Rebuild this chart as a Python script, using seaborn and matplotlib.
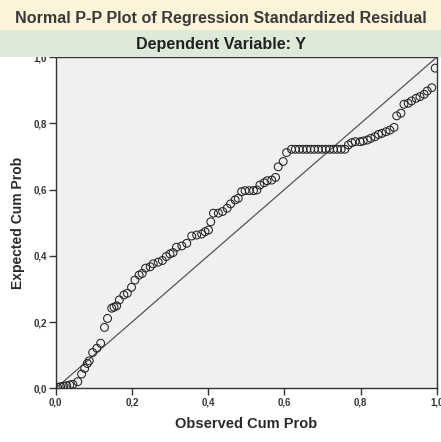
""" Normal P-P plot of regression standardized residual. """

import numpy as np
import pandas as pd
import matplotlib
matplotlib.use("Agg")
import matplotlib.pyplot as plt
from matplotlib.patches import Rectangle
import seaborn as sns

# observed cum prob (x) and expected cum prob (y)
observed = [0.005, 0.013, 0.021, 0.029, 0.037, 0.045, 0.058, 0.068, 0.076, 0.083,
            0.088, 0.097, 0.108, 0.118, 0.128, 0.136, 0.147, 0.153, 0.160, 0.167,
            0.179, 0.188, 0.199, 0.208, 0.219, 0.227, 0.236, 0.248, 0.256, 0.269,
            0.280, 0.290, 0.300, 0.308, 0.317, 0.331, 0.344, 0.357, 0.370, 0.383,
            0.392, 0.401, 0.407, 0.414, 0.427, 0.438, 0.450, 0.459, 0.471, 0.479,
            0.488, 0.497, 0.508, 0.519, 0.528, 0.536, 0.547, 0.555, 0.567, 0.577,
            0.584, 0.597, 0.606, 0.619, 0.629, 0.639, 0.649, 0.659, 0.669, 0.679,
            0.689, 0.699, 0.709, 0.719, 0.729, 0.739, 0.749, 0.759, 0.768, 0.777,
            0.786, 0.799, 0.807, 0.818, 0.827, 0.838, 0.847, 0.856, 0.867, 0.877,
            0.888, 0.895, 0.906, 0.914, 0.925, 0.934, 0.946, 0.956, 0.967, 0.975,
            0.987, 0.996]
expected = [0.003, 0.005, 0.006, 0.008, 0.010, 0.012, 0.020, 0.043, 0.060, 0.075,
            0.083, 0.108, 0.121, 0.136, 0.184, 0.211, 0.242, 0.245, 0.249, 0.267,
            0.282, 0.287, 0.305, 0.327, 0.342, 0.347, 0.363, 0.367, 0.376, 0.381,
            0.386, 0.398, 0.406, 0.410, 0.426, 0.430, 0.438, 0.460, 0.463, 0.466,
            0.473, 0.478, 0.503, 0.529, 0.529, 0.534, 0.544, 0.557, 0.569, 0.574,
            0.594, 0.597, 0.597, 0.597, 0.599, 0.614, 0.621, 0.627, 0.629, 0.637,
            0.669, 0.685, 0.712, 0.722, 0.722, 0.722, 0.722, 0.722, 0.722, 0.722,
            0.722, 0.722, 0.722, 0.722, 0.722, 0.722, 0.722, 0.722, 0.735, 0.742,
            0.745, 0.745, 0.747, 0.750, 0.755, 0.760, 0.767, 0.770, 0.775, 0.780,
            0.788, 0.823, 0.831, 0.858, 0.861, 0.868, 0.876, 0.881, 0.888, 0.898,
            0.908, 0.967]

ref_line = [0.0, 1.0]
ticks = [0.0, 0.2, 0.4, 0.6, 0.8, 1.0]
tick_labels = ["0,0", "0,2", "0,4", "0,6", "0,8", "1,0"]

df = pd.DataFrame({"observed": observed, "expected": expected})

sns.set_style("white")
plt.rcParams["font.family"] = ["Liberation Sans", "DejaVu Sans"]

fig = plt.figure(figsize=(4.41, 4.42), dpi=100)
fig.patch.set_facecolor("white")

# page bands behind the titles
fig.patches.append(Rectangle((0, 1 - 30 / 442), 1, 30 / 442, transform=fig.transFigure,
                             facecolor="#fcf4d9", edgecolor="none", zorder=0))
fig.patches.append(Rectangle((0, 1 - 57 / 442), 1, 27 / 442, transform=fig.transFigure,
                             facecolor="#dde9d9", edgecolor="none", zorder=0))

ax = fig.add_axes([0.1263, 0.1215, 0.864, 0.749])
ax.set_facecolor("#f0f0f0")

sns.lineplot(x=ref_line, y=ref_line, ax=ax, color="#555555", linewidth=0.9)
sns.scatterplot(data=df, x="observed", y="expected", ax=ax, marker="o", s=32,
                facecolor="none", edgecolor="#222222", linewidth=0.75, zorder=3)

ax.set_xlim(0, 1)
ax.set_ylim(0, 1)
ax.set_xticks(ticks)
ax.set_yticks(ticks)
ax.set_xticklabels(tick_labels, fontsize=7, fontweight="bold", color="#333333")
ax.set_yticklabels(tick_labels, fontsize=7, fontweight="bold", color="#333333")
ax.tick_params(axis="both", direction="out", length=5, width=1, color="#333333",
               pad=1.5, bottom=True, left=True)

for sp in ax.spines.values():
    sp.set_color("#333333")
    sp.set_linewidth(1.0)

ax.set_xlabel("Observed Cum Prob", fontsize=10.5, fontweight="bold", color="#2a2a2a", labelpad=7)
ax.set_ylabel("Expected Cum Prob", fontsize=10, fontweight="bold", color="#2a2a2a", labelpad=6)

fig.text(0.5, 1 - 18 / 442, "Normal P-P Plot of Regression Standardized Residual",
         ha="center", va="center", fontsize=11.6, fontweight="bold", color="#3a3a3a")
fig.text(0.5, 1 - 45 / 442, "Dependent Variable: Y",
         ha="center", va="center", fontsize=11.6, fontweight="bold", color="#222222")

fig.savefig("out.png", dpi=100, facecolor=fig.get_facecolor())
